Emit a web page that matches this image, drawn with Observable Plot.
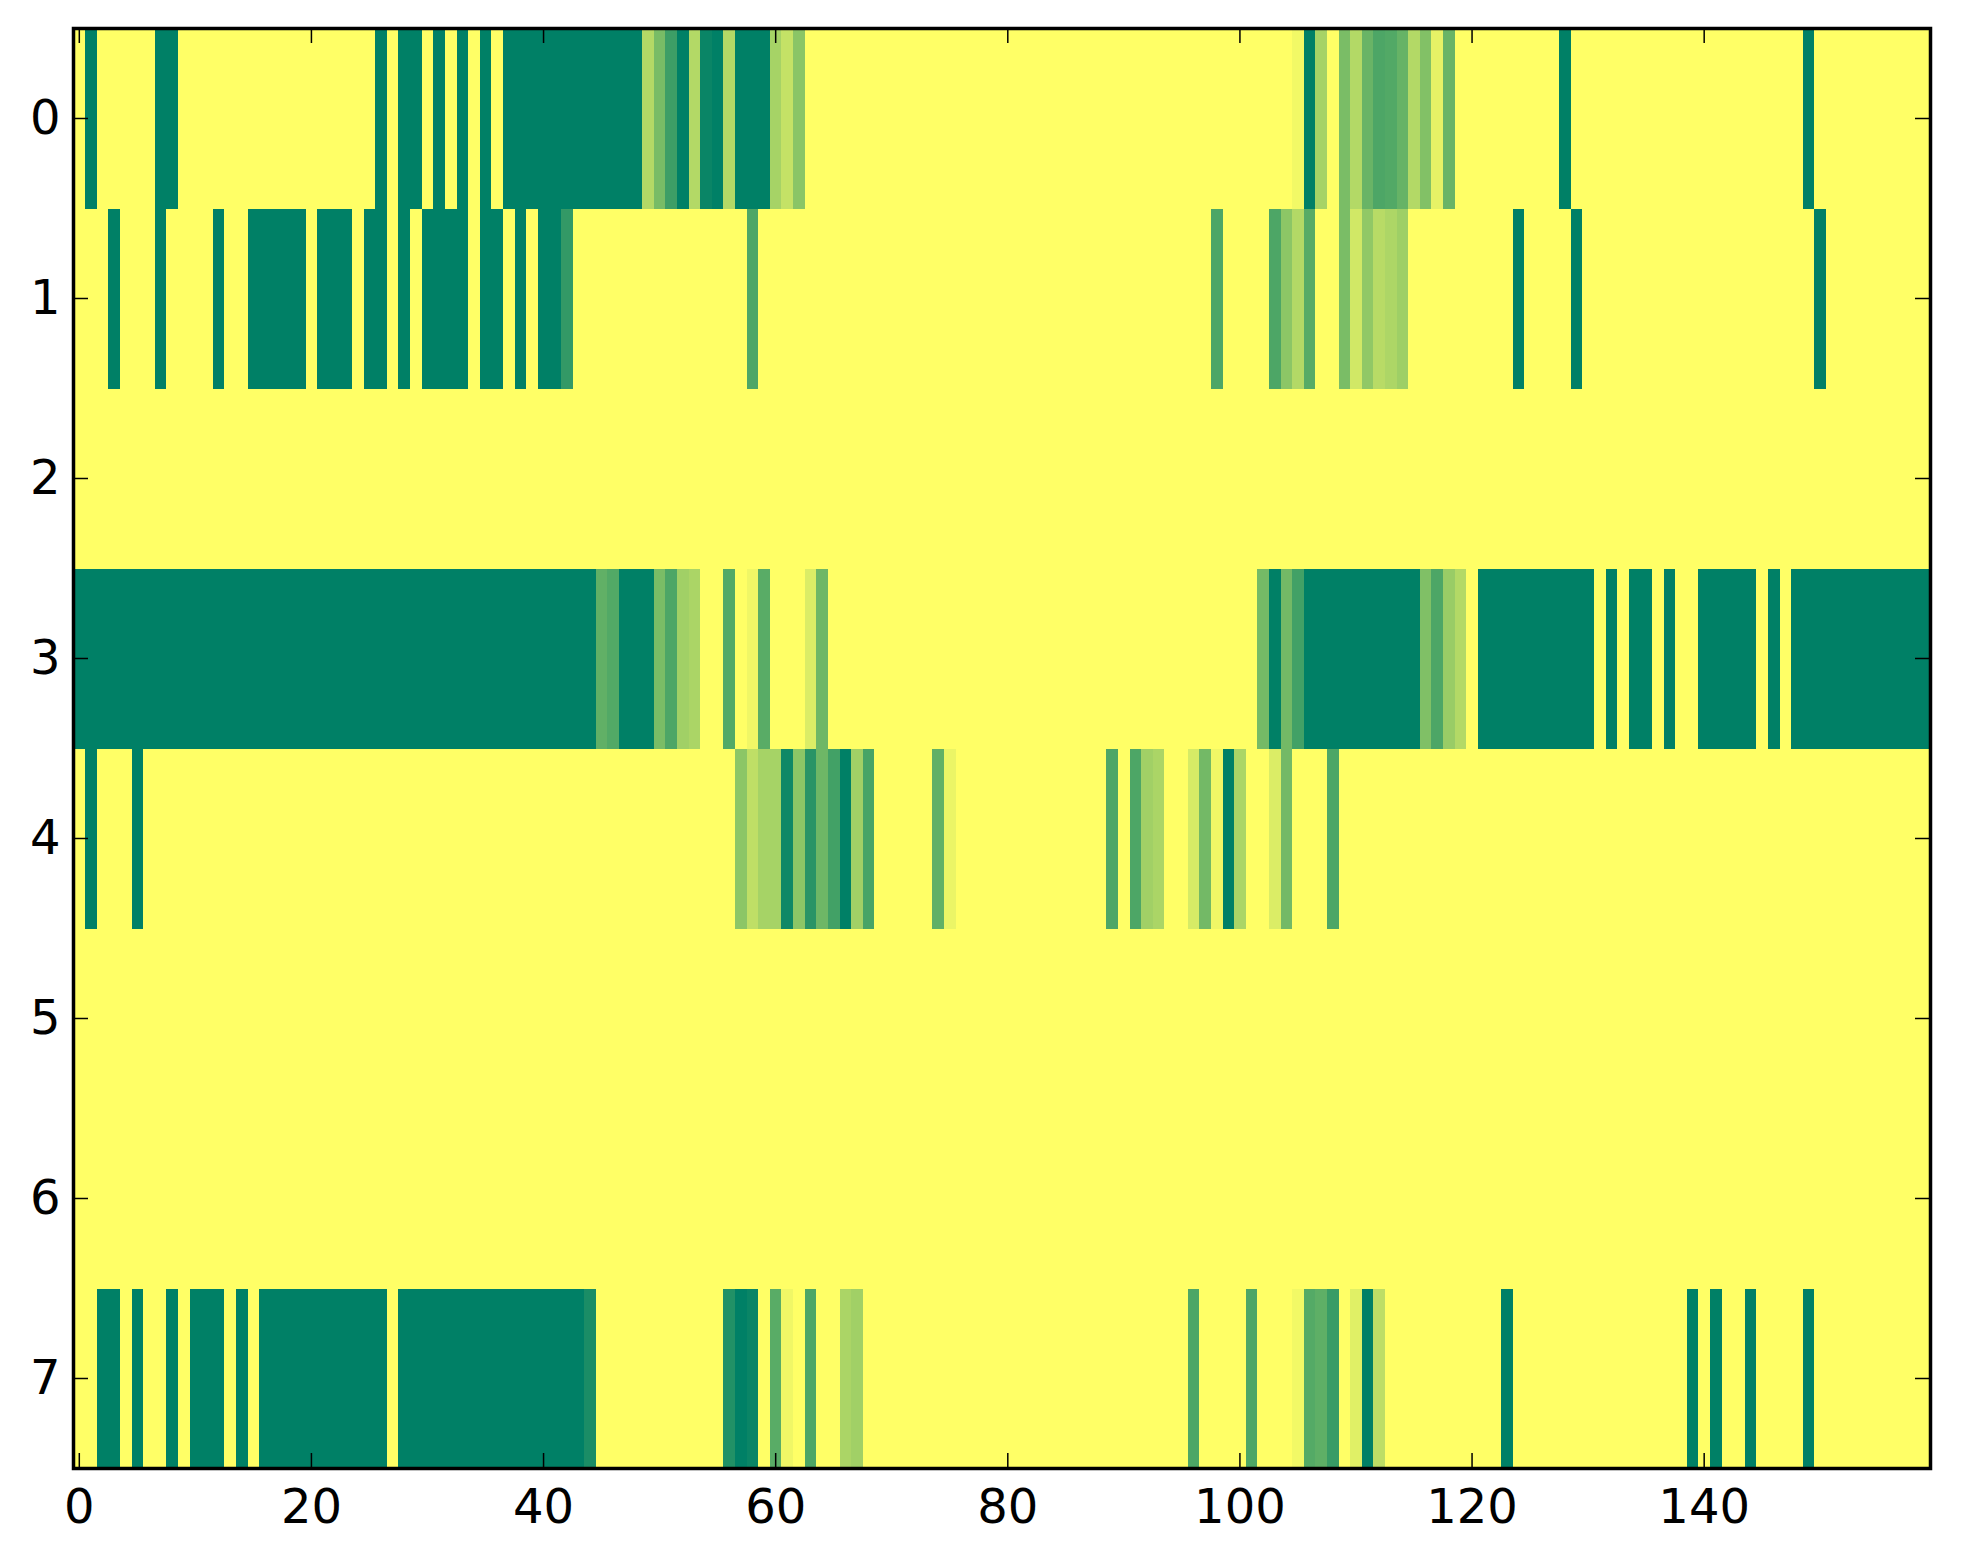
<!DOCTYPE html>
<html>
<head>
<meta charset="utf-8">
<script src="https://cdn.jsdelivr.net/npm/d3@7"></script>
<script src="https://cdn.jsdelivr.net/npm/@observablehq/plot@0.6"></script>
<style>
  html, body { margin: 0; padding: 0; background: white; }
</style>
</head>
<body>
<div id="chart"></div>
<script>
// Heatmap values: 8 rows x 160 columns, default value 1 (yellow).
// Each entry: [startColumn, endColumn, value]
const nCols = 160;
const rowLabels = [0, 1, 2, 3, 4, 5, 6, 7];
const xTicks = [0, 20, 40, 60, 80, 100, 120, 140];

const row0 = [[1,1,0],[7,8,0],[26,26,0],[28,29,0],[31,31,0],[33,33,0],[35,35,0],[37,48,0],
  [49,49,0.7],[50,50,0.47],[51,51,0.24],[52,52,0],[53,53,0.7],[54,54,0.04],[55,55,0],[56,56,0.7],
  [57,59,0],[60,60,0.65],[61,61,0.77],[62,62,0.54],
  [105,105,0.95],[106,106,0],[107,107,0.65],[109,109,0.48],[110,110,0.7],[111,111,0.41],[112,112,0.3],
  [113,113,0.32],[114,114,0.4],[115,115,0.7],[116,116,0.51],[117,117,0.9],[118,118,0.41],
  [128,128,0],[149,149,0]];
const row1 = [[3,3,0],[7,7,0],[12,12,0],[15,19,0],[21,23,0],[25,26,0],[28,28,0],[30,33,0],[35,36,0],
  [38,38,0],[40,41,0],[42,42,0.2],[58,58,0.3],[98,98,0.3],[103,103,0.3],[104,104,0.55],[105,105,0.7],
  [106,106,0.34],[109,109,0.48],[110,110,0.82],[111,111,0.57],[112,112,0.72],[113,113,0.68],[114,114,0.62],
  [124,124,0],[129,129,0],[150,150,0]];
const row2 = [];
const row3 = [[0,44,0],[45,45,0.38],[46,46,0.32],[47,49,0],[50,50,0.48],[51,51,0.3],[52,52,0.63],[53,53,0.67],
  [56,56,0.32],[58,58,0.94],[59,59,0.35],[63,63,0.86],[64,64,0.43],
  [102,102,0.46],[103,103,0],[104,104,0.45],[105,105,0.26],[106,115,0],[116,116,0.5],[117,117,0.3],
  [118,118,0.6],[119,119,0.7],[121,130,0],[132,132,0],[134,135,0],[137,137,0],[140,144,0],[146,146,0],[148,159,0]];
const row4 = [[1,1,0],[5,5,0],[57,57,0.55],[58,58,0.75],[59,60,0.65],[61,61,0.06],[62,62,0.55],[63,63,0.16],
  [64,64,0.43],[65,65,0.26],[66,66,0],[67,67,0.63],[68,68,0.28],[74,74,0.38],[75,75,0.92],
  [89,89,0.3],[91,91,0.3],[92,92,0.63],[93,93,0.67],[96,96,0.84],[97,97,0.45],[98,98,0.94],[99,99,0],
  [100,100,0.67],[103,103,0.86],[104,104,0.45],[108,108,0.3]];
const row5 = [];
const row6 = [];
const row7 = [[2,3,0],[5,5,0],[8,8,0],[10,12,0],[14,14,0],[16,26,0],[28,43,0],[44,44,0.1],
  [56,56,0.13],[57,57,0],[58,58,0.04],[60,60,0.35],[61,61,0.94],[63,63,0.3],[66,66,0.67],[67,67,0.63],
  [96,96,0.3],[101,101,0.3],[105,105,0.95],[106,106,0.33],[107,107,0.37],[108,108,0.22],[110,110,0.88],
  [111,111,0],[112,112,0.74],[123,123,0],[139,139,0],[141,141,0],[144,144,0],[149,149,0]];

const rows = [row0, row1, row2, row3, row4, row5, row6, row7];

function expand(runs) {
  const a = new Array(nCols).fill(1);
  for (const [s, e, v] of runs) for (let i = s; i <= e; i++) a[i] = v;
  return a;
}
const values = rows.map(expand).flat();

const W = 1963, H = 1564;
const mL = 73, mR = 33, mT = 28, mB = 96;
const plotW = W - mL - mR, plotH = H - mT - mB;
const tickLen = 15;
const fs = 48;

const chart = Plot.plot({
  width: W,
  height: H,
  marginLeft: mL,
  marginRight: mR,
  marginTop: mT,
  marginBottom: mB,
  style: {fontFamily: "DejaVu Sans", fontSize: fs + "px", color: "black", background: "white"},
  x: {type: "linear", domain: [-0.5, nCols - 0.5], label: null},
  y: {type: "linear", domain: [-0.5, rowLabels.length - 0.5], reverse: true, label: null},
  color: {type: "linear", domain: [0, 1], range: ["rgb(0,128,102)", "rgb(255,255,102)"], interpolate: "rgb"},
  marks: [
    Plot.raster(values, {
      width: nCols, height: rowLabels.length,
      x1: -0.5, x2: nCols - 0.5, y1: -0.5, y2: rowLabels.length - 0.5,
      fill: d => d,
      imageRendering: "pixelated"
    }),
    Plot.tickX(xTicks, {x: d => d, stroke: "black", strokeWidth: 1.5, insetTop: plotH - tickLen}),
    Plot.tickX(xTicks, {x: d => d, stroke: "black", strokeWidth: 1.5, insetBottom: plotH - tickLen}),
    Plot.tickY(rowLabels, {y: d => d, stroke: "black", strokeWidth: 1.5, insetRight: plotW - tickLen}),
    Plot.tickY(rowLabels, {y: d => d, stroke: "black", strokeWidth: 1.5, insetLeft: plotW - tickLen}),
    Plot.frame({stroke: "black", strokeWidth: 3.5}),
    Plot.axisX(xTicks, {anchor: "bottom", tickSize: 0, tickPadding: 20, fontSize: fs, tickFormat: d3.format("d"), label: null}),
    Plot.axisY(rowLabels, {anchor: "left", tickSize: 0, tickPadding: 13, fontSize: fs, tickFormat: d3.format("d"), label: null})
  ]
});
document.getElementById("chart").appendChild(chart);
</script>
</body>
</html>
